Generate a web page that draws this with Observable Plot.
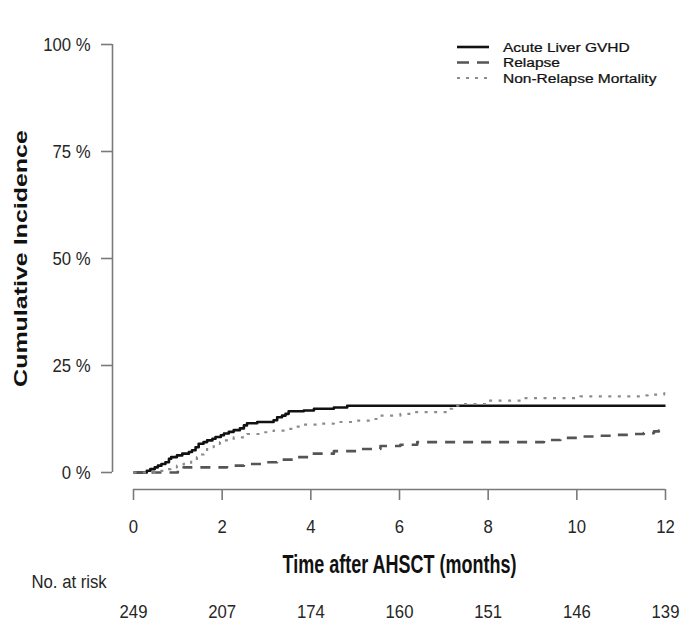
<!DOCTYPE html>
<html>
<head>
<meta charset="utf-8">
<script src="https://cdn.jsdelivr.net/npm/d3@7"></script>
<script src="https://cdn.jsdelivr.net/npm/@observablehq/plot@0.6"></script>
<style>
  html, body { margin: 0; padding: 0; background: #fff; overflow: hidden; }
  #chart { position: relative; width: 682px; height: 625px; font-family: "Liberation Sans", Arial, Helvetica, sans-serif; }
  #legend { position: absolute; left: 0; top: 0; }
</style>
</head>
<body>
<div id="chart"></div>
<script>
// ---- data ----
const monthTicks = [0, 2, 4, 6, 8, 10, 12];
const percentTicks = [0, 25, 50, 75, 100];
const atRisk = [249, 207, 174, 160, 151, 146, 139];
const seriesNames = ["Acute Liver GVHD", "Relapse", "Non-Relapse Mortality"];

const acuteTime  = [0, 0.30, 0.38, 0.48, 0.55, 0.63, 0.72, 0.80, 0.85, 0.98, 1.10, 1.25, 1.32, 1.40, 1.47, 1.58, 1.66, 1.78, 1.85, 1.97, 2.04, 2.15, 2.26, 2.40, 2.49, 2.56, 2.79, 3.16, 3.24, 3.35, 3.43, 3.50, 3.84, 4.07, 4.52, 4.82, 12];
const acuteValue = [0, 0.4, 0.8, 1.2, 1.6, 2.0, 2.4, 3.2, 3.6, 4.0, 4.4, 4.8, 5.2, 5.9, 6.7, 7.1, 7.5, 7.9, 8.3, 8.7, 9.1, 9.5, 9.9, 10.3, 11.0, 11.5, 11.8, 12.2, 12.9, 13.3, 13.7, 14.3, 14.5, 14.9, 15.2, 15.6, 15.6];

const relapseTime  = [0, 1.00, 1.13, 2.11, 2.49, 3.01, 3.24, 3.62, 3.99, 4.52, 5.12, 5.57, 6.02, 6.40, 9.26, 9.63, 10.08, 10.46, 10.84, 11.29, 11.51, 11.74, 11.85, 11.97, 12];
const relapseValue = [0, 0.4, 1.2, 1.6, 2.0, 2.4, 3.0, 3.6, 4.4, 5.0, 5.5, 6.2, 6.5, 7.1, 7.6, 8.1, 8.4, 8.6, 8.8, 9.0, 9.2, 9.6, 9.8, 10.2, 10.2];

const nrmTime  = [0, 0.55, 0.75, 0.84, 0.98, 1.13, 1.30, 1.43, 1.52, 1.59, 1.66, 1.81, 1.95, 2.04, 2.26, 2.56, 2.86, 3.16, 3.47, 3.60, 3.76, 4.14, 4.52, 4.97, 5.42, 5.57, 6.02, 6.32, 7.08, 7.19, 7.38, 7.98, 8.80, 10.08, 11.44, 11.60, 11.97, 12];
const nrmValue = [0, 0.4, 0.8, 1.2, 1.6, 2.0, 2.8, 3.6, 4.2, 4.7, 5.9, 6.7, 7.1, 7.5, 8.2, 9.0, 9.4, 9.8, 10.2, 10.7, 11.2, 11.4, 11.8, 12.1, 12.5, 13.3, 13.7, 14.1, 14.9, 15.6, 16.0, 16.8, 17.4, 17.8, 18.0, 18.2, 18.5, 18.5];

// ---- styles ----
const lineStyles = [
  { stroke: "#111111", strokeWidth: 2.6, strokeDasharray: null, legendDash: null },
  { stroke: "#555555", strokeWidth: 2.6, strokeDasharray: "10,8", legendDash: "12,8" },
  { stroke: "#8c8c8c", strokeWidth: 2.2, strokeDasharray: "3,6.5", legendDash: "3,6" }
];
const axisGray = "#7a7a7a";
const textGray = "#262626";
const font = '"Liberation Sans", Arial, Helvetica, sans-serif';
const yTitle = "Cumulative Incidence";
const xTitle = "Time after AHSCT (months)";
const riskTitle = "No. at risk";

const toRows = (times, values, name) => times.map((t, i) => ({ t, v: values[i], name }));
const curves = [
  toRows(acuteTime, acuteValue, seriesNames[0]),
  toRows(relapseTime, relapseValue, seriesNames[1]),
  toRows(nrmTime, nrmValue, seriesNames[2])
];
const riskRows = monthTicks.map((m, i) => ({ m, n: atRisk[i] }));

const xMin = d3.min(monthTicks), xMax = d3.max(monthTicks);
const yMin = d3.min(percentTicks), yMax = d3.max(percentTicks);
const pctFormat = d => d + " %";

const chart = Plot.plot({
  width: 682,
  height: 625,
  marginLeft: 133,
  marginRight: 17,
  marginTop: 44,
  marginBottom: 153,
  style: { fontFamily: font, background: "#fff", overflow: "visible" },
  x: { domain: [xMin, xMax] },
  y: { domain: [yMin, yMax] },
  marks: [
    // axis domain lines (offset like R base graphics)
    Plot.ruleX([xMin], { y1: yMin, y2: yMax, dx: -21, stroke: axisGray, strokeWidth: 1.6 }),
    Plot.ruleY([yMin], { x1: xMin, x2: xMax, dy: 17, stroke: axisGray, strokeWidth: 1.6 }),
    Plot.axisY({
      ticks: percentTicks, tickFormat: pctFormat, tickSize: 11, tickPadding: 11, dx: -21,
      stroke: axisGray, strokeWidth: 1.6, fill: textGray, fontSize: 19, label: null
    }),
    Plot.axisX({
      ticks: monthTicks, tickFormat: d => String(d), tickSize: 11, tickPadding: 19, dy: 17,
      stroke: axisGray, strokeWidth: 1.6, fill: textGray, fontSize: 19, label: null
    }),
    // axis titles
    Plot.text([yTitle], {
      frameAnchor: "left", dx: -113, rotate: -90, textAnchor: "middle", lineAnchor: "middle",
      fontWeight: "bold", fontSize: 25, fill: "#111"
    }),
    Plot.text([xTitle], {
      frameAnchor: "bottom", dy: 92, lineAnchor: "middle",
      fontWeight: "bold", fontSize: 25, fill: "#111"
    }),
    // number at risk table
    Plot.text([riskTitle], {
      frameAnchor: "bottom-left", dx: -102, dy: 109, textAnchor: "start", lineAnchor: "middle",
      fontSize: 19, fill: textGray
    }),
    Plot.text(riskRows, {
      x: "m", text: d => String(d.n), frameAnchor: "bottom", dy: 139, lineAnchor: "middle",
      fontSize: 19, fill: textGray
    }),
    // cumulative incidence step curves
    ...curves.map((rows, i) => Plot.line(rows, {
      x: "t", y: "v", curve: "step-after",
      stroke: lineStyles[i].stroke,
      strokeWidth: lineStyles[i].strokeWidth,
      strokeDasharray: lineStyles[i].strokeDasharray,
      strokeLinecap: "butt"
    }))
  ]
});
document.getElementById("chart").appendChild(chart);

// condensed glyph look of the reference: scale each text about its own anchor
const squeeze = (strings, s) => {
  const set = new Set(strings);
  d3.select(chart).selectAll("text").each(function () {
    if (!set.has(this.textContent)) return;
    const x = +this.getAttribute("x") || 0, y = +this.getAttribute("y") || 0;
    const t = this.getAttribute("transform") || "";
    this.setAttribute("transform", `${t} translate(${x},${y}) ${s} translate(${-x},${-y})`);
  });
};
squeeze(monthTicks.map(String), "scale(0.88,1)");
squeeze(percentTicks.map(pctFormat), "scale(0.88,1)");
squeeze(atRisk.map(String), "scale(0.88,1)");
squeeze([riskTitle], "scale(0.88,1)");
squeeze([xTitle], "scale(0.72,1)");
squeeze([yTitle], "scale(1,0.75)");

// legend (top right)
const legend = d3.select("#chart").append("svg")
  .attr("id", "legend").attr("width", 682).attr("height", 110);
seriesNames.forEach((name, i) => {
  const y = 47 + i * 15.5;
  legend.append("line")
    .attr("x1", 457).attr("x2", 489).attr("y1", y).attr("y2", y)
    .attr("stroke", lineStyles[i].stroke)
    .attr("stroke-width", lineStyles[i].strokeWidth)
    .attr("stroke-dasharray", lineStyles[i].legendDash);
  legend.append("text")
    .attr("x", 0).attr("y", 0).attr("dy", "0.35em")
    .attr("font-family", font).attr("font-size", 13.5).attr("fill", "#111")
    .attr("stroke", "#111").attr("stroke-width", 0.25)
    .attr("transform", `translate(503,${y}) scale(1.15,1)`)
    .text(name);
});
</script>
</body>
</html>
